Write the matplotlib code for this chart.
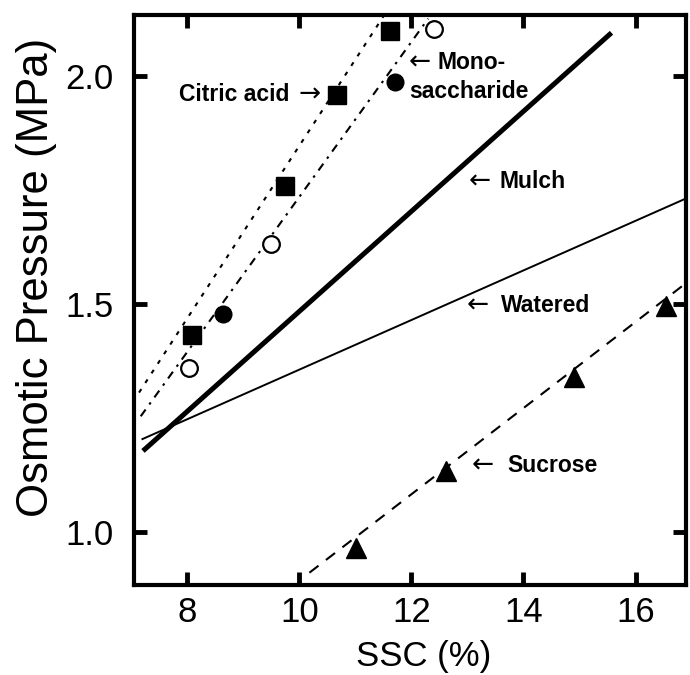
import matplotlib
matplotlib.use("Agg")
import matplotlib.pyplot as plt

# Data
citric_x = [8.08, 9.74, 10.68, 11.61]
citric_y = [1.431, 1.757, 1.958, 2.097]
mono_open_x = [8.04, 9.49, 12.41]
mono_open_y = [1.359, 1.630, 2.102]
mono_fill_x = [8.64, 11.70]
mono_fill_y = [1.477, 1.985]
sucrose_x = [11.01, 12.62, 14.91, 16.55]
sucrose_y = [0.964, 1.133, 1.340, 1.495]

# regression lines (end points)
citric_line_x = [7.14, 11.5]
citric_line_y = [1.305, 2.13]
mono_line_x = [7.17, 12.3]
mono_line_y = [1.253, 2.125]
mulch_line_x = [7.21, 15.57]
mulch_line_y = [1.177, 2.094]
watered_line_x = [7.2, 16.87]
watered_line_y = [1.203, 1.729]
sucrose_line_x = [10.18, 16.9]
sucrose_line_y = [0.91, 1.545]

x_ticks = [8, 10, 12, 14, 16]
y_ticks = [1.0, 1.5, 2.0]

plt.rcParams['font.family'] = ['Liberation Sans', 'DejaVu Sans']

fig = plt.figure(figsize=(6.9, 6.75), dpi=100)
ax = fig.add_axes([134 / 690, 90 / 675, 552 / 690, 570 / 675])

ax.plot(citric_line_x, citric_line_y, color='black', lw=1.5, dashes=(2, 3.5))
ax.plot(mono_line_x, mono_line_y, color='black', lw=1.5, dashes=(4, 3, 1.2, 3))
ax.plot(mulch_line_x, mulch_line_y, color='black', lw=3.6, solid_capstyle='butt')
ax.plot(watered_line_x, watered_line_y, color='black', lw=1.4)
ax.plot(sucrose_line_x, sucrose_line_y, color='black', lw=1.5, dashes=(5.5, 4.5))

ax.plot(citric_x, citric_y, 's', color='black', ms=12.5, zorder=5)
ax.plot(mono_open_x, mono_open_y, 'o', mfc='white', mec='black', mew=1.6, ms=12, zorder=5)
ax.plot(mono_fill_x, mono_fill_y, 'o', color='black', ms=12, zorder=5)
ax.plot(sucrose_x, sucrose_y, '^', color='black', ms=14, zorder=5)

# labels beside the lines; arrows drawn as glyphs
lab = dict(fontsize=16.5, fontweight='bold', va='center', color='black')
arr = dict(fontsize=19, family='DejaVu Sans', va='center', ha='center', color='black')
ax.text(9.83, 1.958, "Citric acid", ha='right', **lab)
ax.text(10.19, 1.958, "\u2192", **arr)
ax.text(12.15, 2.028, "\u2190", **arr)
ax.text(12.46, 2.028, "Mono-", ha='left', **lab)
ax.text(11.97, 1.965, "saccharide", ha='left', **lab)
ax.text(13.22, 1.768, "\u2190", **arr)
ax.text(13.58, 1.768, "Mulch", ha='left', **lab)
ax.text(13.19, 1.497, "\u2190", **arr)
ax.text(13.60, 1.497, "Watered", ha='left', **lab)
ax.text(13.28, 1.145, "\u2190", **arr)
ax.text(13.72, 1.145, "Sucrose", ha='left', **lab)

ax.set_xlim(7.05, 16.9)
ax.set_ylim(0.883, 2.133)
ax.set_xticks(x_ticks)
ax.set_yticks(y_ticks)
ax.set_yticklabels([f"{v:.1f}" for v in y_ticks])

for s in ax.spines.values():
    s.set_linewidth(3)
ax.tick_params(direction='in', length=9.5, width=3.5, top=True, right=True,
               labelsize=25)
ax.tick_params(axis='x', pad=8)
ax.tick_params(axis='y', pad=15)

ax.set_xlabel("SSC (%)", fontsize=25)
ax.set_ylabel("Osmotic Pressure (MPa)", fontsize=31.5)
ax.xaxis.set_label_coords(0.525, -0.097)
ax.yaxis.set_label_coords(-0.14, 0.54)

fig.savefig("out.png", dpi=100)
